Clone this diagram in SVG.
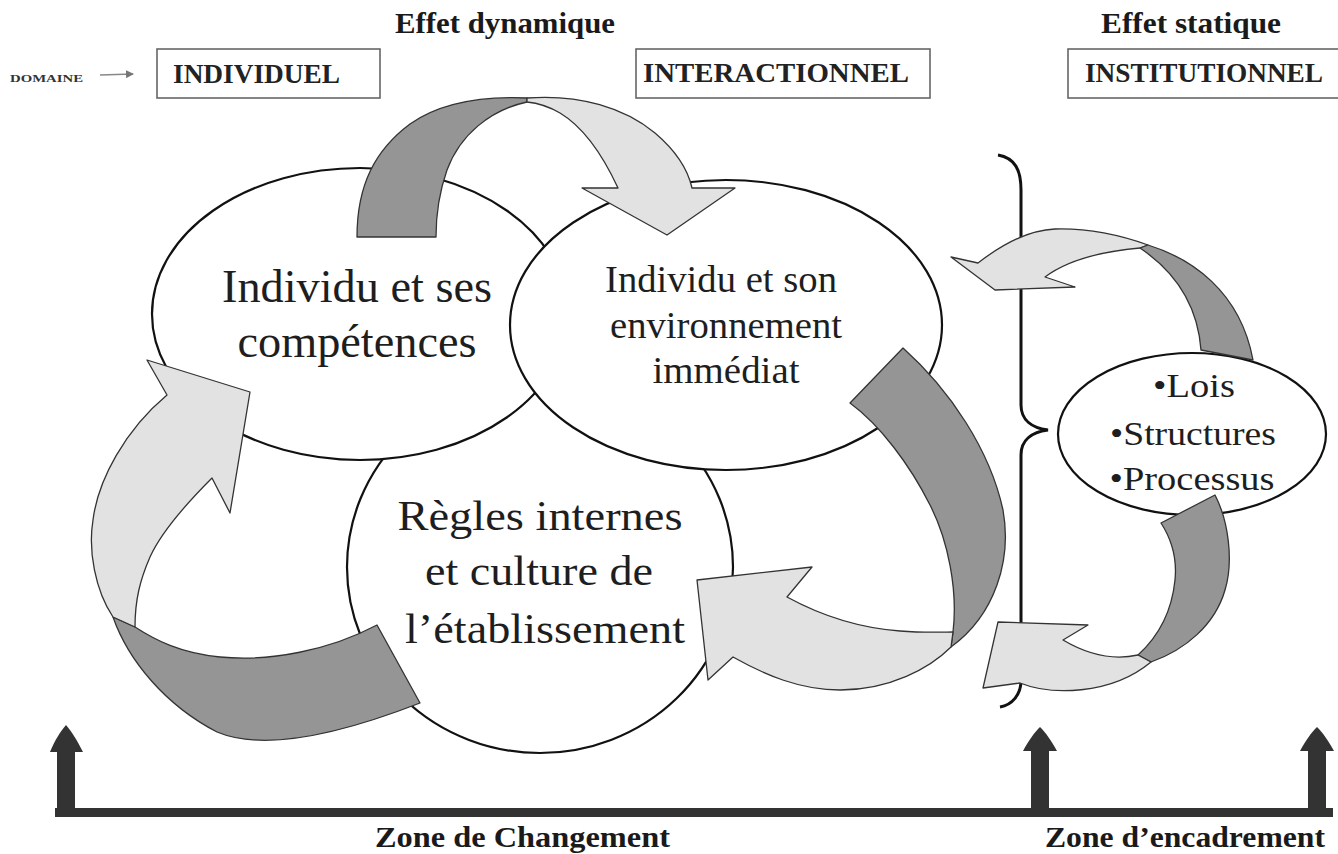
<svg xmlns="http://www.w3.org/2000/svg" width="1338" height="854" viewBox="0 0 1338 854">
<defs>
<style>
.box{fill:#fff;stroke:#666;stroke-width:1.6}
.boxt{font-family:"Liberation Serif",serif;font-weight:bold;font-size:27px;fill:#222}
.hdr{font-family:"Liberation Serif",serif;font-weight:bold;font-size:30px;fill:#1a1a1a}
.ell{fill:#fff;stroke:#111;stroke-width:2.2}
.et{font-family:"Liberation Serif",serif;fill:#1e1e1e;text-anchor:middle}
.dk{fill:#959595;stroke:#333;stroke-width:1.3;stroke-linejoin:round}
.lt{fill:#e2e2e2;stroke:#333;stroke-width:1.3;stroke-linejoin:round}
.big{fill:#333}
</style>
<marker id="ah" markerWidth="8" markerHeight="8" refX="7" refY="4" orient="auto" markerUnits="userSpaceOnUse"><path d="M0,0 L8,4 L0,8 Z" fill="#777"/></marker>
</defs>
<rect width="1338" height="854" fill="#fff"/>

<text class="hdr" x="395" y="33" textLength="220" lengthAdjust="spacingAndGlyphs">Effet dynamique</text>
<text class="hdr" x="1101" y="33" textLength="180" lengthAdjust="spacingAndGlyphs">Effet statique</text>

<g id="domaine">
<text x="10" y="82" font-family="Liberation Serif, serif" font-weight="bold" font-size="11" fill="#333" textLength="73" lengthAdjust="spacingAndGlyphs">DOMAINE</text>
<line x1="100" y1="75" x2="133" y2="74" stroke="#888" stroke-width="1.6" marker-end="url(#ah)"/>
</g>

<g id="box-individuel">
<rect class="box" x="157" y="49" width="223" height="49"/>
<text class="boxt" x="173" y="83" textLength="167" lengthAdjust="spacingAndGlyphs">INDIVIDUEL</text>
</g>
<g id="box-interactionnel">
<rect class="box" x="636" y="49" width="294" height="49"/>
<text class="boxt" x="643" y="82" textLength="266" lengthAdjust="spacingAndGlyphs">INTERACTIONNEL</text>
</g>
<g id="box-institutionnel">
<rect class="box" x="1068" y="49" width="280" height="49"/>
<text class="boxt" x="1085" y="82" textLength="238" lengthAdjust="spacingAndGlyphs">INSTITUTIONNEL</text>
</g>

<g id="node-regles">
<ellipse class="ell" cx="540" cy="567" rx="193" ry="186"/>
<text class="et" font-size="43" x="540" y="530" textLength="285" lengthAdjust="spacingAndGlyphs">Règles internes</text>
<text class="et" font-size="43" x="539" y="585" textLength="228" lengthAdjust="spacingAndGlyphs">et culture de</text>
<text class="et" font-size="43" x="545" y="643" textLength="280" lengthAdjust="spacingAndGlyphs">l’établissement</text>
</g>
<g id="node-individu">
<ellipse class="ell" cx="360" cy="314" rx="208" ry="146"/>
<text class="et" font-size="46" x="357" y="302" textLength="270" lengthAdjust="spacingAndGlyphs">Individu et ses</text>
<text class="et" font-size="46" x="357" y="357" textLength="239" lengthAdjust="spacingAndGlyphs">compétences</text>
</g>
<g id="node-environnement">
<ellipse class="ell" cx="726" cy="325" rx="216" ry="145"/>
<text class="et" font-size="38" x="721" y="292" textLength="232" lengthAdjust="spacingAndGlyphs">Individu et son</text>
<text class="et" font-size="38" x="726" y="338" textLength="232" lengthAdjust="spacingAndGlyphs">environnement</text>
<text class="et" font-size="38" x="726" y="383" textLength="147" lengthAdjust="spacingAndGlyphs">immédiat</text>
</g>
<g id="node-lois">
<ellipse class="ell" cx="1192" cy="434" rx="134" ry="81"/>
<text class="et" font-size="34" x="1194" y="397" textLength="82" lengthAdjust="spacingAndGlyphs">•Lois</text>
<text class="et" font-size="34" x="1193" y="445" textLength="166" lengthAdjust="spacingAndGlyphs">•Structures</text>
<text class="et" font-size="34" x="1192" y="490" textLength="165" lengthAdjust="spacingAndGlyphs">•Processus</text>
</g>

<g id="brace">
<path d="M998,155 C1015,158 1021,170 1021,190 L1021,405 C1021,420 1032,428 1048,430 C1032,432 1021,440 1021,455 L1021,680 C1021,695 1012,705 1000,707" fill="none" stroke="#111" stroke-width="3"/>
</g>

<g id="connectors">
<!-- top arc: individu -> environnement -->
<path class="dk" d="M357,237 C357,185 375,150 410,124 C440,103 480,96 527,98 L527,102 C490,110 460,135 447,170 C440,190 436,212 436,237 Z"/>
<path class="lt" d="M527,98 C580,94 625,108 655,133 C675,150 688,170 692,188 L735,188 L667,235 L582,188 L618,188 C605,160 585,128 560,113 C548,106 537,103 527,102 Z"/>
<!-- right: environnement -> regles -->
<path class="dk" d="M850,403 L903,348 C950,390 990,450 1003,510 C1012,560 995,615 951,647 L953,632 C958,590 948,540 930,505 C910,465 880,425 850,403 Z"/>
<path class="lt" d="M953,632 L951,647 C930,668 890,690 840,690 C800,690 765,675 733,657 L708,680 L697,580 L812,567 L787,597 C820,615 860,628 900,631 C925,633 945,632 953,632 Z"/>
<!-- left: regles -> individu -->
<path class="dk" d="M113,617 C128,660 165,705 217,732 C260,750 330,738 420,703 L377,625 C330,650 270,662 220,657 C180,653 155,640 135,627 Z"/>
<path class="lt" d="M113,617 C95,590 88,550 93,520 C98,480 125,430 167,395 L147,360 L250,392 L230,513 L212,478 C185,505 160,535 150,557 C140,580 135,600 135,627 Z"/>
<!-- institutional: top -->
<path class="lt" d="M1148,245 C1120,235 1090,228 1055,229 C1030,230 1005,242 978,263 L951,257 L995,290 L1075,287 L1045,277 C1065,262 1095,252 1140,248 Z"/>
<path class="dk" d="M1140,248 L1148,245 C1190,258 1240,290 1253,360 L1201,350 C1198,310 1180,275 1140,248 Z"/>
<!-- institutional: bottom -->
<path class="dk" d="M1161,523 L1215,495 C1228,520 1234,560 1225,590 C1215,625 1185,650 1151,662 L1138,655 C1160,635 1172,610 1175,580 C1177,560 1172,540 1161,523 Z"/>
<path class="lt" d="M1138,655 C1115,660 1090,656 1063,640 L1088,625 L998,622 L983,688 L1020,683 C1050,695 1110,696 1151,662 Z"/>
</g>

<g id="zones">
<rect class="big" x="55" y="808" width="1278" height="9"/>
<path class="big" d="M57,812 L57,752 L50,752 C55,740 60,732 66,725 C72,732 77,740 83,752 L75,752 L75,812 Z"/>
<path class="big" d="M1031,812 L1031,751 L1023,751 C1029,740 1034,733 1040,727 C1046,733 1051,740 1057,751 L1049,751 L1049,812 Z"/>
<path class="big" d="M1308,812 L1308,751 L1300,751 C1306,740 1311,733 1317,727 C1323,733 1328,740 1334,751 L1326,751 L1326,812 Z"/>
<text class="hdr" x="375" y="847" font-size="31" textLength="295" lengthAdjust="spacingAndGlyphs">Zone de Changement</text>
<text class="hdr" x="1045" y="847" font-size="31" textLength="280" lengthAdjust="spacingAndGlyphs">Zone d’encadrement</text>
</g>
</svg>
